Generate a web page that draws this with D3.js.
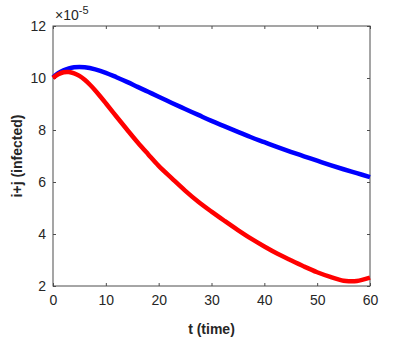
<!DOCTYPE html>
<html>
<head>
<meta charset="utf-8">
<script src="https://cdn.jsdelivr.net/npm/d3@7"></script>
<style>
  body { margin: 0; background: #fff; }
  svg text { font-family: "Liberation Sans", Arial, sans-serif; fill: #262626; }
</style>
</head>
<body>
<div id="chart"></div>
<script>
// time points and the two curves (values in units of 1e-5)
const tRed = [0, 1, 2, 3, 4, 5, 6, 7, 8, 9, 10, 12, 14, 16, 18, 20, 22.5, 25, 27.5, 30, 32.5, 35, 37.5, 40, 42.5, 45, 47.5, 50, 52.5, 55, 56, 57.5, 60];
const redValues = [10.00, 10.14, 10.22, 10.23, 10.18, 10.08, 9.93, 9.74, 9.52, 9.28, 9.03, 8.52, 8.02, 7.53, 7.07, 6.62, 6.14, 5.67, 5.24, 4.86, 4.50, 4.15, 3.82, 3.52, 3.24, 2.99, 2.75, 2.53, 2.35, 2.20, 2.18, 2.19, 2.32];

const tBlue = [0, 1, 2, 3, 4, 5, 6, 8, 10, 12, 14, 16, 18, 20, 22.5, 25, 27.5, 30, 32.5, 35, 37.5, 40, 42.5, 45, 47.5, 50, 52.5, 55, 57.5, 60];
const blueValues = [10.02, 10.19, 10.30, 10.37, 10.41, 10.42, 10.41, 10.33, 10.20, 10.03, 9.85, 9.66, 9.47, 9.28, 9.04, 8.81, 8.58, 8.35, 8.14, 7.93, 7.72, 7.53, 7.34, 7.16, 6.99, 6.82, 6.65, 6.49, 6.34, 6.19];

const xTicks = [0, 10, 20, 30, 40, 50, 60];
const yTicks = [2, 4, 6, 8, 10, 12];

const margin = {top: 26, right: 39, bottom: 68, left: 53};
const width = 409 - margin.left - margin.right;
const height = 354 - margin.top - margin.bottom;

const svg = d3.select("#chart").append("svg")
    .attr("width", 409).attr("height", 354);
const g = svg.append("g")
    .attr("transform", `translate(${margin.left},${margin.top})`);

const x = d3.scaleLinear().domain([0, 60]).range([0, width]);
const y = d3.scaleLinear().domain([2, 12]).range([height, 0]);

const axisColor = "#4d4d4d";

// axes (ticks pointing inwards, like MATLAB)
const styleAxis = sel => {
  sel.select(".domain").remove();
  sel.selectAll(".tick line").attr("stroke", axisColor);
};
g.append("g").attr("transform", `translate(0,${height})`)
    .call(d3.axisBottom(x).tickValues(xTicks).tickSizeInner(-3).tickSizeOuter(0).tickPadding(9))
    .call(styleAxis)
    .selectAll("text").attr("font-size", 14).attr("fill", "#262626");
g.append("g")
    .call(d3.axisTop(x).tickValues(xTicks).tickSizeInner(-3).tickSizeOuter(0).tickFormat(""))
    .call(styleAxis);
g.append("g")
    .call(d3.axisLeft(y).tickValues(yTicks).tickSizeInner(-3).tickSizeOuter(0).tickPadding(7))
    .call(styleAxis)
    .selectAll("text").attr("font-size", 14).attr("fill", "#262626");
g.append("g").attr("transform", `translate(${width},0)`)
    .call(d3.axisRight(y).tickValues(yTicks).tickSizeInner(-3).tickSizeOuter(0).tickFormat(""))
    .call(styleAxis);

// box
g.append("rect")
    .attr("width", width).attr("height", height)
    .attr("fill", "none").attr("stroke", axisColor).attr("stroke-width", 1);

// curves
const line = d3.line()
    .x(d => x(d[0]))
    .y(d => y(d[1]))
    .curve(d3.curveCatmullRom.alpha(0.5));

g.append("path")
    .datum(tBlue.map((t, i) => [t, blueValues[i]]))
    .attr("d", line)
    .attr("fill", "none").attr("stroke", "#0000ff").attr("stroke-width", 4.5)
    .attr("stroke-linejoin", "round");

g.append("path")
    .datum(tRed.map((t, i) => [t, redValues[i]]))
    .attr("d", line)
    .attr("fill", "none").attr("stroke", "#ff0000").attr("stroke-width", 4.5)
    .attr("stroke-linejoin", "round");

// exponent label
const expo = g.append("text").attr("x", 2).attr("y", -6).attr("font-size", 14);
expo.append("tspan").text("\u00d710");
expo.append("tspan").attr("dy", -6).attr("font-size", 11).text("-5");

// axis titles
g.append("text")
    .attr("x", width / 2).attr("y", height + 48)
    .attr("text-anchor", "middle").attr("font-size", 14).attr("font-weight", "bold")
    .text("t (time)");
g.append("text")
    .attr("transform", `translate(${-31},${height / 2}) rotate(-90)`)
    .attr("text-anchor", "middle").attr("font-size", 14).attr("font-weight", "bold")
    .text("i+j (infected)");
</script>
</body>
</html>
